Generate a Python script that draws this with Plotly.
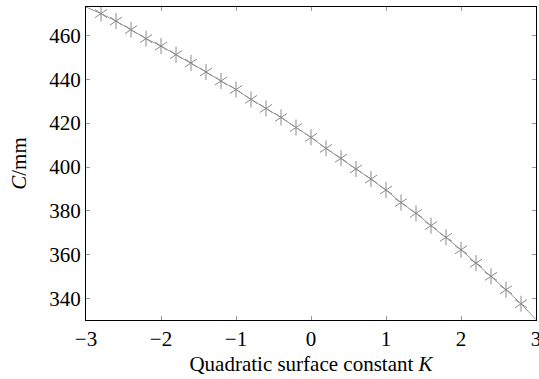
import plotly.graph_objects as go

# Quadratic surface constant K and C (mm)
k_values = [-3.0, -2.8, -2.6, -2.4, -2.2, -2.0, -1.8, -1.6, -1.4, -1.2, -1.0,
            -0.8, -0.6, -0.4, -0.2, 0.0, 0.2, 0.4, 0.6, 0.8, 1.0,
            1.2, 1.4, 1.6, 1.8, 2.0, 2.2, 2.4, 2.6, 2.8, 3.0]
c_values = [472.9, 469.9, 466.5, 462.6, 458.5, 455.1, 451.2, 447.4, 443.3, 439.2, 435.3,
            430.8, 426.7, 422.6, 418.0, 413.5, 408.5, 404.0, 399.1, 394.5, 389.5,
            383.8, 378.9, 373.3, 368.0, 362.3, 356.2, 350.2, 344.1, 337.7, 330.5]

x_ticks = [-3, -2, -1, 0, 1, 2, 3]
y_ticks = [340, 360, 380, 400, 420, 440, 460]

mk_x = k_values[1:-1]
mk_y = c_values[1:-1]

fig = go.Figure()
fig.add_trace(go.Scatter(x=k_values, y=c_values, mode="lines",
                         line=dict(color="#8a8a8a", width=0.9),
                         showlegend=False, hoverinfo="skip"))
for sym in ["y-up-open", "y-down-open"]:
    fig.add_trace(go.Scatter(x=mk_x, y=mk_y, mode="markers",
                             marker=dict(symbol=sym, size=10, color="#8a8a8a",
                                         line=dict(color="#8a8a8a", width=1)),
                             showlegend=False))

serif = "'Liberation Serif', 'Times New Roman', serif"
fig.update_layout(
    width=539, height=379,
    margin=dict(l=86, r=3, t=7, b=59, autoexpand=False),
    paper_bgcolor="white", plot_bgcolor="white",
    font=dict(family=serif, size=21, color="black"),
)
fig.update_xaxes(range=[-3, 3], tickvals=x_ticks, ticks="inside", ticklen=4,
                 tickcolor="#999999", showline=True, linecolor="black", linewidth=1,
                 mirror="allticks", showgrid=False, zeroline=False, automargin=False,
                 ticklabeloverflow="allow", ticklabelstandoff=0,
                 title=dict(text="Quadratic surface constant <i>K</i>",
                            font=dict(family=serif, size=21), standoff=6),
                 tickfont=dict(family=serif, size=21))
fig.update_yaxes(range=[330.3, 472.9], tickvals=y_ticks, ticks="inside", ticklen=4,
                 tickcolor="#999999", showline=True, linecolor="black", linewidth=1,
                 mirror="allticks", showgrid=False, zeroline=False, automargin=False,
                 ticklabeloverflow="allow",
                 title=dict(text="<i>C</i>/mm", font=dict(family=serif, size=21), standoff=16),
                 tickfont=dict(family=serif, size=21))

fig.write_html("out.html", config={"displayModeBar": False},
               post_script="document.body.style.margin='0';")
